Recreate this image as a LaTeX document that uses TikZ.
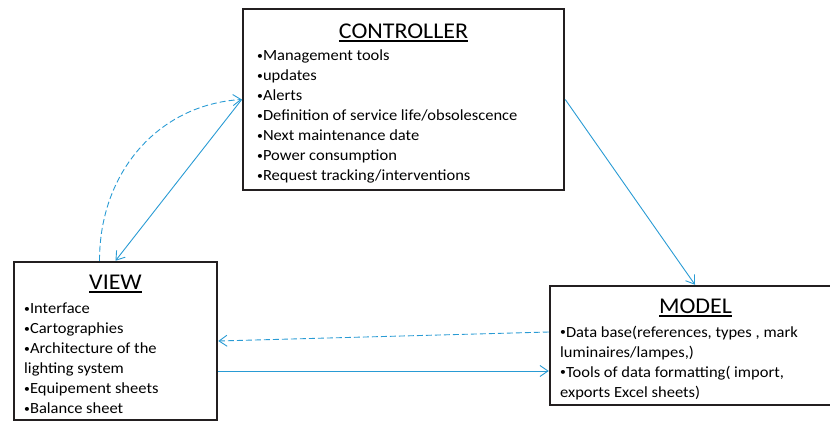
\documentclass[tikz,border=0pt]{standalone}
\usepackage{fontspec}
\setmainfont{Carlito}[FakeStretch=1.065]
\usetikzlibrary{arrows.meta,positioning}
\definecolor{linkblue}{RGB}{41,155,212}
\definecolor{boxgray}{RGB}{35,31,32}
\newcommand{\boxtitle}[1]{\setbox0\hbox{#1}\rlap{\rule[-3.7pt]{\wd0}{1.3pt}}\box0}
\newcommand{\bul}{{\fontsize{11}{11}\selectfont\raisebox{1.2pt}{•}}}
\tikzset{
  mvcbox/.style={draw=boxgray,line width=2.5pt,rectangle,inner sep=0pt},
  boxhead/.style={font=\fontsize{22.5}{26}\selectfont,inner sep=0pt,anchor=base},
  boxlist/.style={font=\fontsize{15.5}{20}\selectfont,align=left,inner sep=0pt,anchor=north west},
  link/.style={draw=linkblue,line width=0.9pt,-{Straight Barb[length=8pt,width=11pt]}},
  dashlink/.style={link,dash pattern=on 6pt off 3pt},
}
\begin{document}
\begin{tikzpicture}[x=1pt,y=-1pt]
\useasboundingbox (0,0) rectangle (830,423);
\clip (0,0) rectangle (830,423);
% Draw the three boxes
\node[mvcbox,minimum width=321pt,minimum height=181pt] (ctrl) at (403.5,99.5) {};
\node[mvcbox,minimum width=203pt,minimum height=158pt] (view) at (115.5,341) {};
\node[mvcbox,minimum width=290pt,minimum height=119pt] (model) at (695,345.5) {};

% Titles
\node[boxhead] (ctrl-title) at (403.5,38) {\boxtitle{CONTROLLER}};
\node[boxhead] (view-title) at (115.5,289) {\boxtitle{VIEW}};
\node[boxhead] (model-title) at (695.5,313) {\boxtitle{MODEL}};

% Bullet lists
\node[boxlist] (ctrl-list) at (257,49.3) {\bul Management tools\\\bul updates\\\bul Alerts\\\bul Definition of service life/obsolescence\\\bul Next maintenance date\\\bul Power consumption\\\bul Request tracking/interventions};
\node[boxlist] (view-list) at (24,302.6) {\bul Interface\\\bul Cartographies\\\bul Architecture of the\\lighting system\\\bul Equipement sheets\\\bul Balance sheet};
\node[boxlist] (model-list) at (560,325.5) {\bul Data base(references, types , mark\\luminaires/lampes,)\\\bul Tools of data formatting( import,\\exports Excel sheets)};

% Links between the parts
\draw[link] (ctrl.east) -- (model.north);
\draw[link] (ctrl.west) -- (view.north);
\draw[dashlink] ([xshift=-16pt]view.north) .. controls +(0,-90) and +(-82,5) .. (ctrl.west);
\draw[dashlink] ([yshift=13.5pt]model.west) -- (view.east);
\coordinate (vout) at ([yshift=-30pt]view.east);
\draw[link] (vout) -- (vout -| model.west);
\end{tikzpicture}
\end{document}
